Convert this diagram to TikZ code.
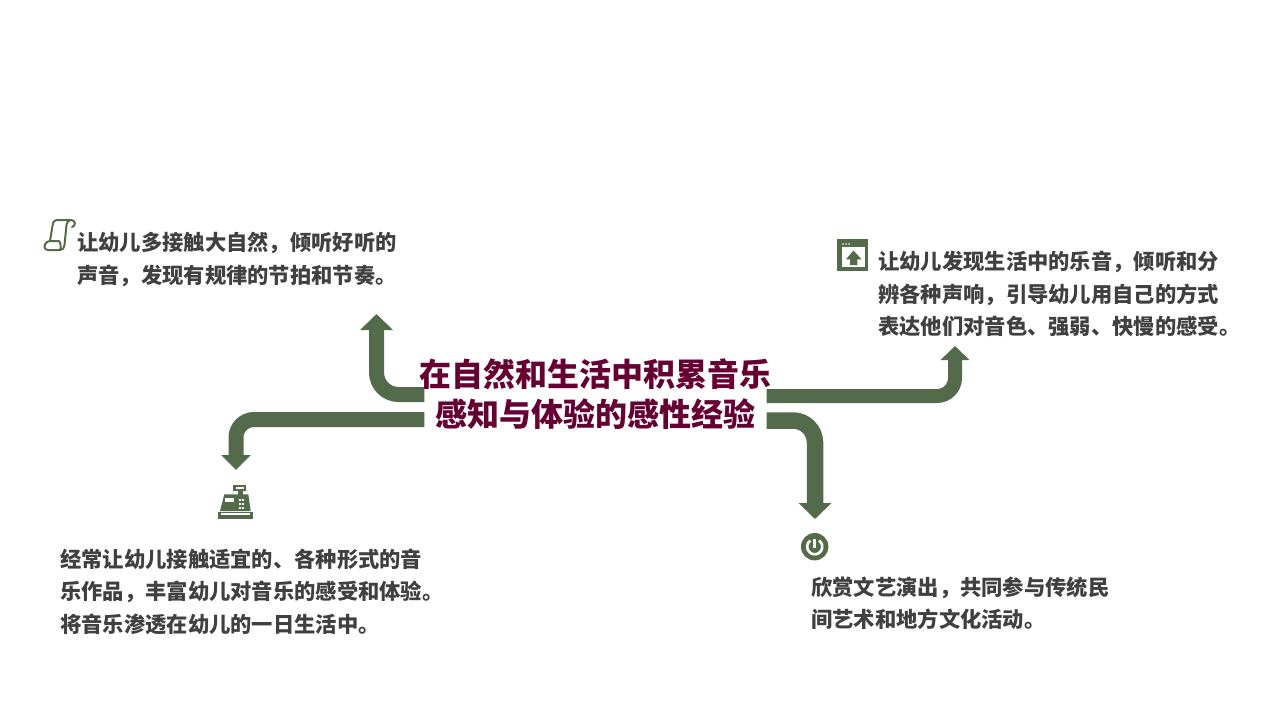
\documentclass[tikz,border=0pt]{standalone}
\usepackage{fontspec}
\setmainfont{Noto Sans CJK SC}[Script=CJK,Language=Chinese Simplified]
\usetikzlibrary{arrows.meta,backgrounds}
\definecolor{leaf}{RGB}{83,107,74}
\definecolor{plum}{RGB}{102,0,51}
\definecolor{ink}{RGB}{64,64,64}
\tikzstyle{headline}=[align=center,inner ysep=0pt,inner xsep=-5pt,text=plum,font=\fontsize{32}{40}\selectfont\bfseries]
\tikzstyle{remark}=[anchor=west,align=left,inner sep=0pt,text=ink,font=\fontsize{21.3}{32.5}\selectfont\bfseries]
\tikzstyle{flow}=[draw=leaf]
\tikzstyle{iconline}=[draw=leaf,line width=2pt,line join=round,line cap=round]

\begin{document}
\begin{tikzpicture}[x=1pt,y=-1pt]
    \useasboundingbox (0,0) rectangle (1280,720);
    \node[headline] (title) at (595.5,394) {在自然和生活中积累音乐\\感知与体验的感性经验};

    \node[remark] (nature) at (77,259.5)  {让幼儿多接触大自然，倾听好听的\\声音，发现有规律的节拍和节奏。};
    \node[remark] (life)   at (878,294) {让幼儿发现生活中的乐音，倾听和分\\辨各种声响，引导幼儿用自己的方式\\表达他们对音色、强弱、快慢的感受。};
    \node[remark] (works)  at (60,591.5)  {经常让幼儿接触适宜的、各种形式的音\\乐作品，丰富幼儿对音乐的感受和体验。\\将音乐渗透在幼儿的一日生活中。};
    \node[remark] (folk)   at (811,603.5) {欣赏文艺演出，共同参与传统民\\间艺术和地方文化活动。};

    \coordinate (a1) at (title.west |- 0,394.5);
    \coordinate (a2) at (title.east |- 0,396);
    \coordinate (a3) at (title.west |- 0,419.5);
    \coordinate (a4) at (title.east |- 0,420.5);
    \coordinate (t1) at (376.5,314);
    \coordinate (t2) at (955,346);
    \coordinate (t3) at (236,470);
    \coordinate (t4) at (815,519);

    \begin{scope}[on background layer]
    \foreach \from/\to/\wd/\rad/\hw/\hl in {a1/t1/15/22/32/16,a2/t2/14/18/28/14,a3/t3/15/18/29/15,a4/t4/16.5/22/32/16}
    \draw[flow,line width=\wd pt,rounded corners=\rad pt,-{Triangle[length=\hl pt,width=\hw pt]}] (\from) -| (\to);
    \end{scope}

    % scroll
    \draw[iconline] (72,227) .. controls (76,226) and (76,220) .. (71,220) -- (58,220)
        .. controls (54,220) and (53,222) .. (52.5,226) -- (50,241) -- (47,242)
        .. controls (43,245) and (44,250) .. (48,250) -- (60,250)
        .. controls (63,250) and (64,248) .. (64.5,245) -- (66.5,225) .. controls (67,222) and (68,220) .. (71,220);
    \draw[iconline] (50,241) -- (59,241) .. controls (61,243) and (61,248) .. (60,250);

    % window
    \fill[leaf] (837.3,239.3) rectangle (868.3,270.7);
    \fill[white] (841.5,247.3) rectangle (864.5,266.7);
    \foreach \x in {843,846,849}
    \fill[white] (\x,244) circle (0.9);
    \fill[leaf] (853.5,250.5) -- (861.5,259.3) -- (857.3,259.3) -- (857.3,265) -- (850,265) -- (850,259.3) -- (846,259.3) -- cycle;

    % register
    \fill[leaf] (233.3,485) rectangle (246,490.7);
    \fill[white] (235.5,486.7) rectangle (243.8,489);
    \fill[leaf] (238,490) rectangle (243,495);
    \fill[leaf] (224.3,494.3) -- (248.3,494.3) -- (250.7,511) -- (220,511) -- cycle;
    \fill[white] (225,498.3) rectangle (234.3,502.3);
    \foreach \x in {238.5,242}
    \foreach \y in {499,503,507}
    \fill[white] (\x,\y) rectangle +(2,1.8);
    \fill[leaf] (218.3,511.5) rectangle (252.7,519);
    \fill[white] (221,513) rectangle (250,515);

    % power
    \fill[leaf] (814.7,546.7) circle (13.7);
    \draw[white,line width=2.6pt] (819.06,540.5) arc[start angle=-55,end angle=235,radius=7.6];
    \draw[white,line width=2.6pt] (814.7,538.5) -- (814.7,547.5);
\end{tikzpicture}
\end{document}
